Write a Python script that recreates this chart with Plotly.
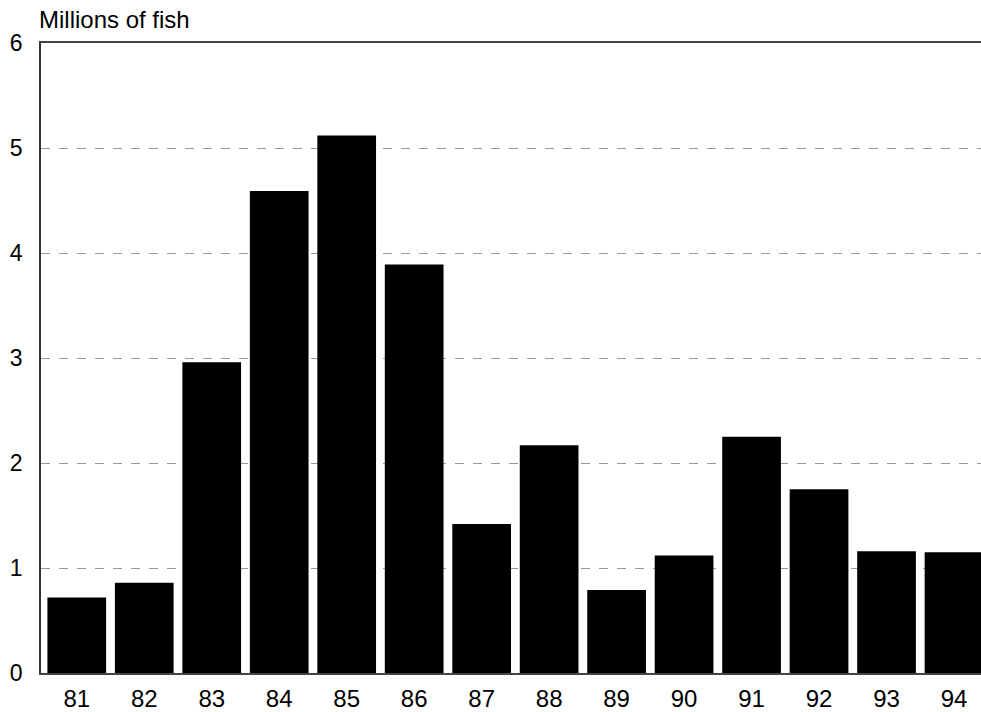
import plotly.graph_objects as go

years = ["81", "82", "83", "84", "85", "86", "87", "88", "89", "90", "91", "92", "93", "94"]
fish_millions = [0.72, 0.86, 2.96, 4.59, 5.12, 3.89, 1.42, 2.17, 0.79, 1.12, 2.25, 1.75, 1.16, 1.15]
y_ticks = [0, 1, 2, 3, 4, 5, 6]

FONT = "Liberation Sans, Arial, Helvetica, sans-serif"

fig = go.Figure()
fig.add_trace(go.Bar(
    x=list(range(len(years))),
    y=fish_millions,
    marker=dict(color="black", line=dict(width=0)),
    width=0.87,
    hoverinfo="y",
))

fig.update_layout(
    width=981,
    height=712,
    margin=dict(l=41, r=0, t=43, b=32),
    paper_bgcolor="white",
    plot_bgcolor="white",
    showlegend=False,
    font=dict(family=FONT, size=23, color="black"),
    annotations=[dict(
        text="Millions of fish", x=0, y=1, xref="paper", yref="paper",
        xanchor="left", yanchor="bottom", xshift=-4, yshift=8, showarrow=False,
        font=dict(family=FONT, size=24, color="black"),
    )],
)

fig.update_xaxes(
    range=[-0.53, 13.4],
    tickvals=list(range(len(years))),
    ticktext=years,
    tickfont=dict(size=24),
    showgrid=False,
    zeroline=False,
    showline=True,
    linecolor="#444",
    linewidth=1.5,
    mirror=True,
    ticks="",
    ticklabelstandoff=3,
)

fig.update_yaxes(
    range=[0, 6],
    tickvals=y_ticks,
    showgrid=True,
    gridcolor="#999",
    griddash="dash",
    gridwidth=1,
    zeroline=False,
    showline=True,
    linecolor="#333",
    linewidth=1.5,
    ticks="",
    ticklabelstandoff=12,
)

# drop the default page margin so the figure fills the 981x712 window
fig.write_html(
    "out.html",
    config={"displayModeBar": False},
    post_script="document.body.style.margin='0';document.body.style.overflow='hidden';",
)
